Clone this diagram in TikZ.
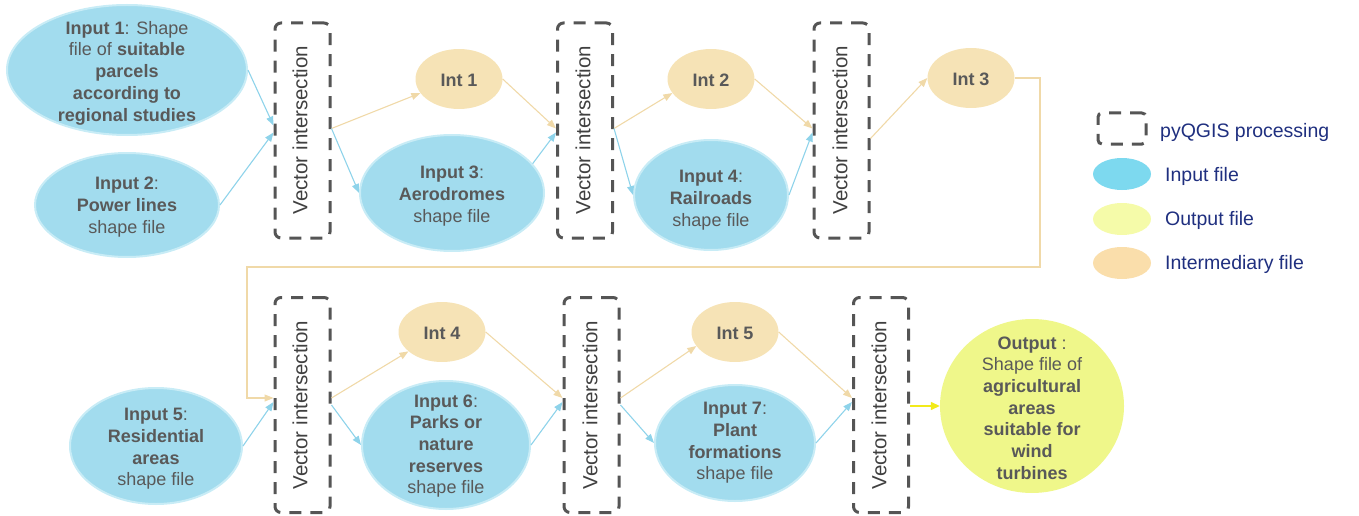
\documentclass[tikz,border=0pt]{standalone}
\usepackage{fontspec}
\setmainfont{Liberation Sans}
\usetikzlibrary{shapes.geometric,arrows.meta}
\definecolor{inblue}{HTML}{A2DCEE}
\definecolor{inbord}{HTML}{C8ECF6}
\definecolor{intor}{HTML}{F6E3B6}
\definecolor{outy}{HTML}{EFF78A}
\definecolor{txt}{HTML}{595959}
\definecolor{boxc}{HTML}{555555}
\definecolor{vitx}{HTML}{404040}
\definecolor{navy}{HTML}{1F2F7F}
\definecolor{lblue}{HTML}{8ED3EA}
\definecolor{lor}{HTML}{F0D9A8}
\definecolor{lyel}{HTML}{F2EA1A}
\definecolor{leginp}{HTML}{7DD9EF}
\definecolor{legout}{HTML}{F5FBA9}
\definecolor{legint}{HTML}{FADEAB}
\begin{document}
\begin{tikzpicture}[x=1pt,y=-1pt,
  inp/.style={ellipse, fill=inblue, draw=inbord, line width=2pt, inner sep=0pt},
  intm/.style={ellipse, fill=intor, inner sep=0pt, minimum width=87pt, minimum height=60pt},
  outp/.style={ellipse, fill=outy, inner sep=0pt},
  ttx/.style={align=center, text=txt, inner sep=0pt, font=\fontsize{18}{21.7}\selectfont},
  inttx/.style={text=txt, inner sep=0pt, font=\fontsize{18}{21.7}\selectfont\bfseries},
  vibox/.style={draw=boxc, line width=3pt, dash pattern=on 12pt off 9pt, rounded corners=6pt, minimum width=55pt, minimum height=215pt, inner sep=0pt},
  vitext/.style={rotate=90, text=vitx, inner sep=0pt, font=\fontsize{20.5}{24}\selectfont},
  bl/.style={draw=lblue, line width=1.1pt, -{Triangle[length=9pt,width=7pt]}},
  ol/.style={draw=lor, line width=1.1pt, -{Triangle[length=9pt,width=7pt]}},
  yl/.style={draw=lyel, line width=1.3pt, -{Triangle[length=9pt,width=8pt]}},
  legtx/.style={anchor=west, text=navy, inner sep=0pt, font=\fontsize{19.5}{23}\selectfont},
]
\useasboundingbox (0,0) rectangle (1359,516);

% ---------- top row ----------
\node[inp, minimum width=240pt, minimum height=130pt] (in1) at (127,70) {};
\node[ttx] (in1t) at (127,73) {\textbf{Input 1}: Shape\\file of \textbf{suitable}\\\textbf{parcels}\\\textbf{according to}\\\textbf{regional studies}};
\node[inp, minimum width=184pt, minimum height=104pt] (in2) at (127,205) {};
\node[ttx] (in2t) at (127,207) {\textbf{Input 2}:\\\textbf{Power lines}\\shape file};

\node[vibox] (vi1) at (302.5,130.5) {};
\node[vitext] (vi1t) at (300,130) {Vector intersection};

\node[intm] (int1) at (459,79) {};
\node[inttx] (int1t) at (459,80) {Int 1};
\node[inp, minimum width=184pt, minimum height=116pt] (in3) at (452,193) {};
\node[ttx] (in3t) at (452,196) {\textbf{Input 3}:\\\textbf{Aerodromes}\\shape file};

\node[vibox] (vi2) at (585,130.5) {};
\node[vitext] (vi2t) at (583,130) {Vector intersection};

\node[intm] (int2) at (711,79) {};
\node[inttx] (int2t) at (711,80) {Int 2};
\node[inp, minimum width=154pt, minimum height=110pt] (in4) at (711,195) {};
\node[ttx] (in4t) at (711,200) {\textbf{Input 4}:\\\textbf{Railroads}\\shape file};

\node[vibox] (vi3) at (841.5,130.5) {};
\node[vitext] (vi3t) at (840,130) {Vector intersection};

\node[intm] (int3) at (971,78) {};
\node[inttx] (int3t) at (971,79) {Int 3};

% ---------- bottom row ----------
\node[inp, minimum width=172pt, minimum height=116pt] (in5) at (156,446) {};
\node[ttx] (in5t) at (156,449) {\textbf{Input 5}:\\\textbf{Residential}\\\textbf{areas}\\shape file};

\node[vibox] (vi4) at (302.5,405) {};
\node[vitext] (vi4t) at (300,405) {Vector intersection};

\node[intm] (int4) at (442,332) {};
\node[inttx] (int4t) at (442,333) {Int 4};
\node[inp, minimum width=168pt, minimum height=128pt] (in6) at (446,445) {};
\node[ttx] (in6t) at (446,446) {\textbf{Input 6}:\\\textbf{Parks or}\\\textbf{nature}\\\textbf{reserves}\\shape file};

\node[vibox] (vi5) at (591.5,405) {};
\node[vitext] (vi5t) at (590,405) {Vector intersection};

\node[intm] (int5) at (735,332) {};
\node[inttx] (int5t) at (735,333) {Int 5};
\node[inp, minimum width=160pt, minimum height=116pt] (in7) at (735,443) {};
\node[ttx] (in7t) at (735,443) {\textbf{Input 7}:\\\textbf{Plant}\\\textbf{formations}\\shape file};

\node[vibox] (vi6) at (881,405) {};
\node[vitext] (vi6t) at (879,405) {Vector intersection};

\node[outp, minimum width=184pt, minimum height=174pt] (out) at (1032,406) {};
\node[ttx] (outt) at (1032,408) {\textbf{Output} :\\Shape file of\\\textbf{agricultural}\\\textbf{areas}\\\textbf{suitable for}\\\textbf{wind}\\\textbf{turbines}};

% ---------- connectors ----------
\draw[bl] (in1.east) -- ([yshift=5pt]vi1.west);
\draw[bl] (in2.east) -- ([yshift=-2pt]vi1.west);
\draw[ol] ([yshift=2pt]vi1.east) -- (int1.200);
\draw[bl] ([yshift=2pt]vi1.east) -- (in3.west);
\draw[ol] (int1.east) -- ([yshift=2pt]vi2.west);
\draw[bl] (in3.20) -- ([yshift=-2pt]vi2.west);
\draw[ol] ([yshift=2pt]vi2.east) -- (int2.200);
\draw[bl] ([yshift=2pt]vi2.east) -- (in4.west);
\draw[ol] (int2.east) -- ([yshift=2pt]vi3.west);
\draw[bl] (in4.east) -- ([yshift=-2pt]vi3.west);
\draw[ol] ([yshift=-8pt]vi3.east) -- (int3.west);
\coordinate (r1) at (1040,267);
\coordinate (r2) at (247,267);
\draw[ol] (int3.east) -| (r1) -- (r2) |- ([yshift=7pt]vi4.west);

\draw[bl] (in5.east) -- ([yshift=3pt]vi4.west);
\draw[ol] ([yshift=7pt]vi4.east) -- (int4.210);
\draw[bl] ([yshift=0pt]vi4.east) -- (in6.west);
\draw[ol] (int4.east) -- ([yshift=7pt]vi5.west);
\draw[bl] (in6.east) -- ([yshift=3pt]vi5.west);
\draw[ol] ([yshift=7pt]vi5.east) -- (int5.200);
\draw[bl] ([yshift=0pt]vi5.east) -- (in7.west);
\draw[ol] (int5.east) -- ([yshift=7pt]vi6.west);
\draw[bl] (in7.east) -- ([yshift=3pt]vi6.west);
\draw[yl] ([yshift=-1pt]vi6.east) -- (out.west);

% ---------- legend ----------
\node[draw=boxc, line width=3pt, dash pattern=on 12pt off 9pt, rounded corners=4pt, minimum width=48pt, minimum height=31pt, inner sep=0pt] (lg1) at (1122,128.5) {};
\node[legtx] (lg1t) at (1160,132) {pyQGIS processing};
\node[ellipse, fill=leginp, minimum width=58pt, minimum height=32pt, inner sep=0pt] (lg2) at (1122,174) {};
\node[legtx] (lg2t) at (1165,176) {Input file};
\node[ellipse, fill=legout, minimum width=58pt, minimum height=32pt, inner sep=0pt] (lg3) at (1122,219) {};
\node[legtx] (lg3t) at (1165,220) {Output file};
\node[ellipse, fill=legint, minimum width=58pt, minimum height=32pt, inner sep=0pt] (lg4) at (1122,263) {};
\node[legtx] (lg4t) at (1165,264) {Intermediary file};
\end{tikzpicture}
\end{document}
